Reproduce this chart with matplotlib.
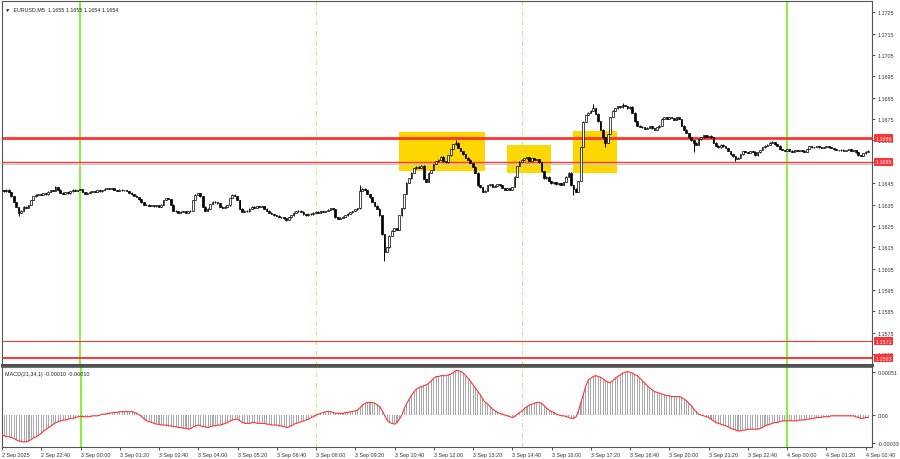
import numpy as np
import matplotlib.pyplot as plt
from matplotlib.patches import Rectangle

plt.rcParams['font.family'] = ['Liberation Sans', 'DejaVu Sans']

# EURUSD M5 closes, points above 1.16000 (2 Sep 21:20 .. 4 Sep 02:45)
close_pts = [
    418, 412, 420, 408, 388, 362, 338, 312, 322, 340, 336, 348,
    372, 388, 396, 400, 394, 402, 398, 410, 418, 414, 430, 420,
    405, 400, 408, 402, 412, 420, 414, 418, 422, 408, 400, 406,
    410, 414, 408, 416, 412, 418, 424, 428, 422, 426, 418, 414,
    420, 416, 418, 414, 405, 398, 392, 386, 375, 360, 348, 350,
    345, 348, 342, 346, 340, 350, 372, 380, 376, 350, 322, 318,
    312, 316, 320, 312, 318, 322, 372, 396, 404, 388, 340, 322,
    330, 352, 364, 360, 356, 340, 336, 340, 346, 380, 396, 390,
    372, 330, 316, 322, 318, 330, 340, 336, 342, 338, 344, 330,
    322, 312, 305, 300, 298, 292, 290, 286, 278, 290, 300, 312,
    318, 322, 316, 304, 300, 308, 304, 312, 316, 312, 318, 316,
    320, 326, 332, 328, 290, 282, 288, 294, 300, 308, 314, 320,
    328, 332, 415, 425, 418, 400, 384, 362, 345, 330, 300, 210,
    128, 150, 205, 228, 240, 230, 300, 332, 400, 452, 472, 500,
    520, 528, 522, 532, 470, 456, 500, 512, 540, 552, 560, 574,
    552, 548, 580, 610, 632, 640, 615, 600, 585, 570, 560, 545,
    528, 500, 440, 430, 410, 415, 440, 446, 432, 438, 445, 440,
    428, 420, 426, 418, 432, 480, 530, 550, 560, 566, 572, 555,
    568, 560, 562, 548, 505, 472, 480, 460, 450, 455, 444, 450,
    442, 455, 480, 500, 440, 425, 410, 460, 620, 738, 770, 780,
    790, 800, 775, 740, 700, 665, 640, 680, 760, 790, 800, 810,
    805, 815, 812, 800, 808, 780, 740, 720, 715, 712, 705, 710,
    718, 706, 700, 712, 720, 752, 758, 750, 760, 755, 748, 760,
    750, 720, 700, 685, 665, 650, 640, 630, 655, 665, 675, 668,
    672, 665, 640, 625, 618, 630, 622, 615, 600, 585, 575, 565,
    570, 585, 600, 596, 592, 600, 598, 580, 595, 605, 618, 625,
    630, 640, 642, 632, 625, 610, 605, 600, 608, 602, 598, 606,
    600, 604, 602, 598, 610, 622, 618, 620, 624, 618, 616, 620,
    622, 618, 615, 608, 606, 604, 607, 602, 605, 608, 600, 604,
    595, 580, 578, 590, 598, 602,
]
first_open_pts = 415
# longer wicks (bar index -> extreme, points)
wick_hi = {22: 435, 146: 438, 185: 650, 241: 818, 253: 826, 314: 646}
wick_lo = {7: 300, 116: 275, 156: 88, 233: 394, 246: 620, 282: 596, 299: 557}

# MACD(21,34,1) main line, 1e-5 units
macd_pts = [
    -24, -25, -26, -26, -27, -28, -30, -31, -32, -32, -32, -31,
    -29, -27, -26, -24, -22, -19, -17, -15, -13, -11, -9, -8,
    -7, -6, -6, -5, -4, -4, -3, -2, -2, -2, -2, -2,
    -2, -1, -1, -1, 0, 1, 1, 2, 2, 3, 3, 3,
    4, 4, 4, 4, 4, 4, 3, 2, 0, -2, -5, -7,
    -8, -9, -10, -11, -11, -12, -12, -12, -13, -13, -14, -14,
    -15, -15, -16, -16, -17, -16, -14, -13, -12, -13, -14, -14,
    -15, -14, -13, -13, -12, -12, -11, -10, -9, -7, -6, -5,
    -5, -7, -9, -10, -10, -10, -9, -9, -10, -10, -10, -10,
    -11, -11, -12, -12, -12, -13, -13, -14, -15, -14, -13, -11,
    -10, -9, -8, -7, -6, -5, -3, -2, 0, 1, 2, 3,
    4, 4, 4, 3, 2, 2, 2, 2, 3, 3, 4, 4,
    5, 6, 9, 12, 14, 15, 15, 15, 14, 12, 10, 5,
    -1, -6, -9, -10, -11, -9, -5, 0, 8, 14, 19, 24,
    28, 31, 33, 34, 35, 36, 38, 41, 44, 46, 46, 47,
    47, 47, 48, 49, 51, 53, 53, 52, 50, 47, 44, 40,
    36, 32, 28, 24, 19, 15, 13, 10, 7, 5, 3, 2,
    1, 0, -1, -2, -3, -2, 1, 3, 5, 8, 10, 12,
    13, 14, 15, 15, 14, 11, 8, 6, 4, 3, 1, 0,
    -1, -1, -2, -3, -4, -4, -2, 5, 15, 25, 35, 42,
    44, 46, 47, 46, 45, 43, 41, 39, 39, 41, 44, 46,
    48, 50, 51, 52, 51, 50, 48, 47, 44, 41, 38, 35,
    32, 30, 28, 27, 26, 25, 24, 23, 23, 22, 22, 22,
    22, 21, 19, 17, 14, 11, 7, 4, 1, 0, -1, -2,
    -3, -5, -7, -9, -10, -11, -12, -13, -14, -16, -17, -18,
    -19, -19, -18, -18, -17, -17, -17, -17, -17, -16, -15, -13,
    -12, -11, -10, -9, -9, -8, -7, -7, -7, -7, -7, -7,
    -7, -6, -6, -6, -5, -5, -4, -4, -3, -3, -3, -2,
    -2, -2, -1, -1, -1, -1, -1, -1, -1, -1, -1, -1,
    -2, -3, -4, -4, -3, -3,
]

# time axis: one label every 16 bars
time_tick_bars = list(range(0, 353, 16))
time_tick_labels = ['2 Sep 2025', '2 Sep 22:40', '3 Sep 00:00', '3 Sep 01:20', '3 Sep 02:40',
                    '3 Sep 04:00', '3 Sep 05:20', '3 Sep 06:40', '3 Sep 08:00', '3 Sep 09:20',
                    '3 Sep 10:40', '3 Sep 12:00', '3 Sep 13:20', '3 Sep 14:40', '3 Sep 16:00',
                    '3 Sep 17:20', '3 Sep 18:40', '3 Sep 20:00', '3 Sep 21:20', '3 Sep 22:40',
                    '4 Sep 00:00', '4 Sep 01:20', '4 Sep 02:40']
price_ticks = [1.1565, 1.1575, 1.1585, 1.1595, 1.1605, 1.1615, 1.1625, 1.1635, 1.1645,
               1.1655, 1.1665, 1.1675, 1.1685, 1.1695, 1.1705, 1.1715, 1.1725]
macd_ticks = [0.00051, 0.0, -0.00033]
macd_tick_labels = ['0.00051', '0.00', '-0.00033']

# levels and marked zones
levels = [1.1666, 1.1655, 1.1571, 1.1563]
level_widths = [2.0, 1.0, 0.8, 1.4]
bid_price = 1.1654
day_lines = [32, 320]       # 3 Sep 00:00, 4 Sep 00:00
session_lines = [128, 212]  # 3 Sep 08:00, 3 Sep 15:00
zones = [(161.9, 196.9, 1.16508, 1.16691),
         (206.0, 223.7, 1.16498, 1.16629),
         (232.7, 250.8, 1.16496, 1.16696)]

fs = 3.9
red = '#ff3333'

close = 1.16 + np.array(close_pts) * 1e-5
opn = np.concatenate([[1.16 + first_open_pts * 1e-5], close[:-1]])
high = np.maximum(opn, close)
low = np.minimum(opn, close)
for k, v in wick_hi.items():
    high[k] = 1.16 + v * 1e-5
for k, v in wick_lo.items():
    low[k] = 1.16 + v * 1e-5
x = np.arange(len(close))
macd = np.array(macd_pts) * 1e-5
xm = np.arange(len(macd))

fig = plt.figure(figsize=(9, 4.6), dpi=100)
ax = fig.add_axes([2 / 900, 1 - 366 / 460, 870 / 900, 364 / 460])
ax2 = fig.add_axes([2 / 900, 1 - 448 / 460, 870 / 900, 80 / 460])

xlim = (0.24, 0.24 + 870 / 2.455)

# zones
for x0, x1, y0, y1 in zones:
    ax.add_patch(Rectangle((x0, y0), x1 - x0, y1 - y0, facecolor='#ffd700', edgecolor='none', zorder=1))

for b in day_lines:
    for a in (ax, ax2):
        a.axvline(b, color='#66ee00', lw=1.1, zorder=2)
for b in session_lines:
    for a in (ax, ax2):
        a.axvline(b, color='#b8f08a', lw=0.8, ls=(0, (4, 2, 1, 2)), zorder=2)

ax.axhline(bid_price, color='#c8c8c8', lw=0.8, zorder=2)
for lv, lw in zip(levels, level_widths):
    ax.axhline(lv, color=red, lw=lw, zorder=2)

# candles
up = close >= opn
ax.vlines(x, low - 1.5e-5, high + 1.5e-5, color='black', lw=0.7, zorder=3)
body_h = np.maximum(np.abs(close - opn), 1.5e-5)
ax.bar(x, body_h, bottom=np.minimum(opn, close), width=0.7,
       color=np.where(up, '#ffffff', '#000000'), edgecolor='black', linewidth=0.5, zorder=4)

ax.set_xlim(*xlim)
ax.set_ylim(1.1725 - (366 - 13.3) / 21360, 1.1725 + (13.3 - 2) / 21360)
ax.yaxis.tick_right()
ax.set_yticks(price_ticks)
ax.set_yticklabels([f'{p:.4f}' for p in price_ticks])
ax.set_xticks([])
ax.tick_params(axis='y', labelsize=fs, length=2, pad=2, width=0.6, colors='#333333')

# price labels on the right
def price_label(a, y, txt, fc, tc='white'):
    a.annotate(txt, xy=(1, y), xycoords=('axes fraction', 'data'), xytext=(2.3, 0),
               textcoords='offset points', ha='left', va='center', fontsize=fs, color=tc,
               annotation_clip=False, zorder=10,
               bbox=dict(boxstyle='square,pad=0.25', fc=fc, ec='none'))

price_label(ax, bid_price - 0.00012, '', 'black')
for lv in levels:
    price_label(ax, lv, f'{lv:.4f}', red)

ax.text(0.004, 0.985, '\u25bc  EURUSD,M5  1.1655 1.1655 1.1654 1.1654', transform=ax.transAxes,
        fontsize=fs, va='top', ha='left', color='#222222')

# MACD panel
ax2.bar(xm, macd, width=0.42, color='#a8a8a8', zorder=1)
ax2.plot(xm, macd, color=red, lw=0.8, zorder=3)
ax2.set_xlim(*xlim)
ax2.set_ylim(-38.2e-5, 57.3e-5)
ax2.yaxis.tick_right()
ax2.set_yticks(macd_ticks)
ax2.set_yticklabels(macd_tick_labels)
ax2.tick_params(axis='y', labelsize=fs, length=2, pad=2, width=0.6, colors='#333333')
ax2.set_xticks(time_tick_bars)
ax2.set_xticklabels(time_tick_labels, ha='left')
ax2.tick_params(axis='x', labelsize=fs, length=2, pad=1.5, width=0.6, colors='#333333')
ax2.text(0.004, 0.95, 'MACD(21,34,1) -0.00010 -0.00010', transform=ax2.transAxes,
         fontsize=fs, va='top', ha='left', color='#222222')

for a in (ax, ax2):
    for s in a.spines.values():
        s.set_color('#555555')
        s.set_linewidth(0.8)
ax.spines['bottom'].set_linewidth(2.2)
ax.spines['bottom'].set_color('#505050')
ax2.spines['top'].set_linewidth(1.2)

fig.savefig('out.png', dpi=100)
